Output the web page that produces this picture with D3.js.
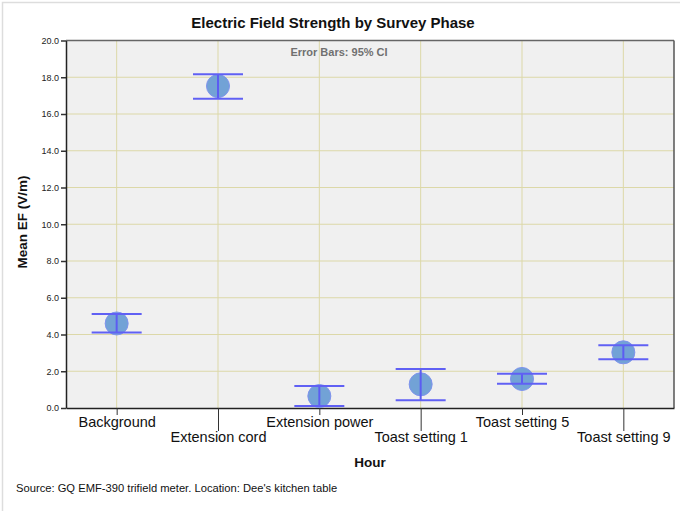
<!DOCTYPE html>
<html>
<head>
<meta charset="utf-8">
<script src="https://cdn.jsdelivr.net/npm/d3@7"></script>
<style>
body { margin: 0; background: #fff; font-family: "Liberation Sans", Arial, sans-serif; }
</style>
</head>
<body>
<svg id="chart"></svg>
<script>
const phases = ['Background', 'Extension cord', 'Extension power', 'Toast setting 1', 'Toast setting 5', 'Toast setting 9'];
const means = [4.6, 17.52, 0.65, 1.29, 1.58, 3.03];
const upper = [5.12, 18.17, 1.2, 2.12, 1.87, 3.41];
const lower = [4.11, 16.83, 0.11, 0.42, 1.32, 2.65];
const yTicks = [0, 2, 4, 6, 8, 10, 12, 14, 16, 18, 20];

const W = 683, H = 511;
const plotLeft = 66, plotRight = 674, plotTop = 40.5, plotBottom = 408;

const svg = d3.select('#chart')
  .attr('width', W)
  .attr('height', H);

// light outer frame (top and left only are visible)
svg.append('path')
  .attr('d', `M2.5,${H} L2.5,2.5 L680,2.5`)
  .attr('fill', 'none')
  .attr('stroke', '#ddd')
  .attr('stroke-width', 1.5);

const xScale = d3.scalePoint()
  .domain(phases)
  .range([plotLeft, plotRight])
  .padding(0.5);

const yScale = d3.scaleLinear()
  .domain([0, 20])
  .range([plotBottom, plotTop]);

svg.append('rect')
  .attr('x', plotLeft).attr('y', plotTop)
  .attr('width', plotRight - plotLeft).attr('height', plotBottom - plotTop)
  .attr('fill', '#f0f0f0');

// grid
svg.append('g')
  .selectAll('line')
  .data(yTicks.slice(1, -1))
  .join('line')
  .attr('x1', plotLeft).attr('x2', plotRight)
  .attr('y1', d => yScale(d)).attr('y2', d => yScale(d))
  .attr('stroke', '#dcd8a8').attr('stroke-width', 1);

svg.append('g')
  .selectAll('line')
  .data(phases)
  .join('line')
  .attr('x1', d => xScale(d)).attr('x2', d => xScale(d))
  .attr('y1', plotTop).attr('y2', plotBottom)
  .attr('stroke', '#dcd8a8').attr('stroke-width', 1);

// frame
svg.append('line').attr('x1', plotLeft).attr('x2', plotRight).attr('y1', plotTop).attr('y2', plotTop)
  .attr('stroke', '#666').attr('stroke-width', 1.5);
svg.append('line').attr('x1', plotRight).attr('x2', plotRight).attr('y1', plotTop).attr('y2', plotBottom)
  .attr('stroke', '#555').attr('stroke-width', 1.5);

// y axis
const yAxis = svg.append('g')
  .attr('transform', `translate(${plotLeft},0)`)
  .call(d3.axisLeft(yScale).tickValues(yTicks).tickFormat(d3.format('.1f')).tickSize(5).tickSizeOuter(0));
yAxis.select('.domain').attr('stroke', '#222').attr('stroke-width', 1.5);
yAxis.selectAll('.tick line').attr('stroke', '#333').attr('stroke-width', 1.5);
yAxis.selectAll('.tick text')
  .attr('font-family', '"Liberation Sans", Arial, sans-serif')
  .attr('font-size', 9)
  .attr('fill', '#222')
  .attr('x', -7);

// x axis with staggered labels
const xAxis = svg.append('g')
  .attr('transform', `translate(0,${plotBottom})`)
  .call(d3.axisBottom(xScale).tickSize(7).tickSizeOuter(0));
xAxis.select('.domain').attr('stroke', '#222').attr('stroke-width', 1.5);
xAxis.selectAll('.tick line')
  .attr('stroke', '#333')
  .attr('y2', (d, i) => i % 2 ? 23 : 7);
xAxis.selectAll('.tick text')
  .attr('font-family', '"Liberation Sans", Arial, sans-serif')
  .attr('font-size', 14.5)
  .attr('fill', '#111')
  .attr('y', (d, i) => i % 2 ? 24 : 9);

// points
svg.append('g')
  .selectAll('circle')
  .data(phases)
  .join('circle')
  .attr('cx', d => xScale(d))
  .attr('cy', (d, i) => yScale(means[i]))
  .attr('r', 11.5)
  .attr('fill', '#72a2d6')
  .attr('stroke', '#7f93ee')
  .attr('stroke-width', 1);

// error bars
const capHalf = 25;
const eb = svg.append('g');
eb.selectAll('line.stem')
  .data(phases)
  .join('line')
  .attr('class', 'stem')
  .attr('x1', d => xScale(d)).attr('x2', d => xScale(d))
  .attr('y1', (d, i) => yScale(upper[i])).attr('y2', (d, i) => yScale(lower[i]))
  .attr('stroke', '#5c5cf2').attr('stroke-width', 2);
['upper', 'lower'].forEach((k) => {
  const arr = k === 'upper' ? upper : lower;
  eb.selectAll('line.' + k)
    .data(phases)
    .join('line')
    .attr('class', k)
    .attr('x1', d => xScale(d) - capHalf).attr('x2', d => xScale(d) + capHalf)
    .attr('y1', (d, i) => yScale(arr[i])).attr('y2', (d, i) => yScale(arr[i]))
    .attr('stroke', '#6060f4').attr('stroke-width', 2);
});

// texts
svg.append('text')
  .attr('x', 333).attr('y', 28)
  .attr('text-anchor', 'middle')
  .attr('font-size', 15).attr('font-weight', 'bold')
  .attr('fill', '#111')
  .text('Electric Field Strength by Survey Phase');

svg.append('text')
  .attr('x', 339).attr('y', 56)
  .attr('text-anchor', 'middle')
  .attr('font-size', 11).attr('font-weight', 'bold')
  .attr('fill', '#707070')
  .text('Error Bars: 95% CI');

svg.append('text')
  .attr('transform', `translate(26.5,222) rotate(-90)`)
  .attr('text-anchor', 'middle')
  .attr('font-size', 13.5).attr('font-weight', 'bold')
  .attr('fill', '#111')
  .text('Mean EF (V/m)');

svg.append('text')
  .attr('x', 370).attr('y', 467)
  .attr('text-anchor', 'middle')
  .attr('font-size', 13.5).attr('font-weight', 'bold')
  .attr('fill', '#111')
  .text('Hour');

svg.append('text')
  .attr('x', 16).attr('y', 492)
  .attr('font-size', 11.2)
  .attr('fill', '#111')
  .text("Source: GQ EMF-390 trifield meter. Location: Dee's kitchen table");
</script>
</body>
</html>
